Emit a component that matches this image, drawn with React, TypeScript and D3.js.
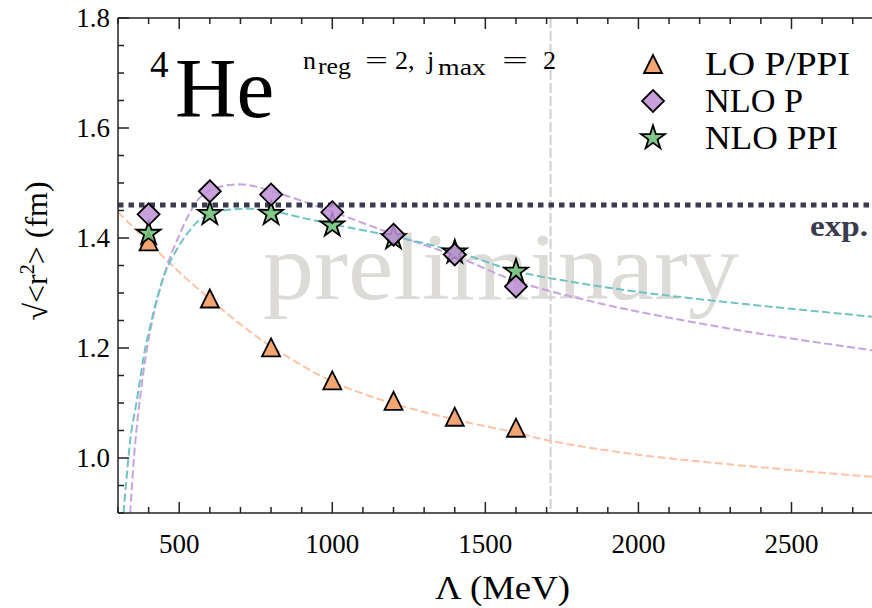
import React from "react";
import * as d3 from "d3";

// ---- data ----
const lambdaPoints = [400, 600, 800, 1000, 1200, 1400, 1600];
const loValues = [1.394, 1.29, 1.201, 1.141, 1.104, 1.075, 1.055];
const nloPValues = [1.443, 1.485, 1.479, 1.447, 1.406, 1.37, 1.312];
const nloPPIValues = [1.408, 1.444, 1.444, 1.423, 1.4, 1.374, 1.339];

const loCurveLambda = [300, 400, 500, 600, 700, 800, 1000, 1200, 1400, 1600, 1713, 2000, 2500, 2763];
const loCurveValues = [1.447, 1.392, 1.338, 1.289, 1.243, 1.203, 1.139, 1.099, 1.07, 1.046, 1.031, 1.006, 0.978, 0.966];

const nloPCurveLambda = [340, 352, 370, 395, 420, 445, 470, 500, 533, 565, 609, 674, 729, 797, 892, 1000, 1208, 1399, 1598, 1807, 2000, 2363, 2763];
const nloPCurveValues = [0.9, 1.0, 1.1, 1.2, 1.27, 1.322, 1.365, 1.405, 1.444, 1.472, 1.489, 1.497, 1.496, 1.486, 1.469, 1.448, 1.405, 1.368, 1.322, 1.29, 1.266, 1.229, 1.196];

const nloPPICurveLambda = [318, 334, 344, 360, 389, 402, 429, 457, 511, 565, 620, 674, 729, 797, 892, 1000, 1208, 1399, 1598, 1807, 2000, 2363, 2763];
const nloPPICurveValues = [0.9, 1.0, 1.05, 1.1, 1.2, 1.232, 1.293, 1.341, 1.396, 1.432, 1.447, 1.452, 1.453, 1.45, 1.438, 1.425, 1.402, 1.376, 1.34, 1.318, 1.302, 1.279, 1.257];

const expValue = 1.46;
const cutoffLambda = 1713;

const xMajorTicks = [500, 1000, 1500, 2000, 2500];
const xMinorTicks = [300, 400, 600, 700, 800, 900, 1100, 1200, 1300, 1400, 1600, 1700, 1800, 1900, 2100, 2200, 2300, 2400, 2600, 2700];
const yMajorTicks = [1.0, 1.2, 1.4, 1.6, 1.8];
const yMinorTicks = [0.9, 0.95, 1.05, 1.1, 1.15, 1.25, 1.3, 1.35, 1.45, 1.5, 1.55, 1.65, 1.7, 1.75];

const legendLabels = ["LO P/PPI", "NLO P", "NLO PPI"];

// ---- style ----
const W = 872, H = 608;
const L = 118, R = 872, T = 18, B = 513;
const FONT = "'Liberation Serif', 'Times New Roman', serif";
const colLoFill = "#f2a06a", colLoLine = "#fcc3a6";
const colPFill = "#bd8fd6", colPLine = "#c9a3e0";
const colPPIFill = "#74c27c", colPPILine = "#70c4c2";
const colExp = "#3b3b4f";

const x = d3.scaleLinear().domain([300, 2763]).range([L, R]);
const y = d3.scaleLinear().domain([0.9, 1.8]).range([B, T]);

function triPath(s: number) {
  const h = s / 2;
  return `M0,${-h}L${-h},${h}L${h},${h}Z`;
}
function diamondPath(s: number) {
  return `M0,${-s}L${s},0L0,${s}L${-s},0Z`;
}
function starPath(Ro: number) {
  const ri = Ro * 0.382;
  const pts: string[] = [];
  for (let i = 0; i < 10; i++) {
    const a = -Math.PI / 2 + (i * Math.PI) / 5;
    const r = i % 2 === 0 ? Ro : ri;
    pts.push(`${(r * Math.cos(a)).toFixed(2)},${(r * Math.sin(a)).toFixed(2)}`);
  }
  return "M" + pts.join("L") + "Z";
}

const shapes = [
  { d: triPath(18), fill: colLoFill, op: 0.95 },
  { d: diamondPath(11), fill: colPFill, op: 0.85 },
  { d: starPath(12.5), fill: colPPIFill, op: 0.9 },
];

export default function App() {
  const line = d3
    .line<[number, number]>()
    .x((d) => x(d[0]))
    .y((d) => y(d[1]))
    .curve(d3.curveCatmullRom.alpha(0.5));

  const curves = [
    { xs: loCurveLambda, ys: loCurveValues, col: colLoLine },
    { xs: nloPCurveLambda, ys: nloPCurveValues, col: colPLine },
    { xs: nloPPICurveLambda, ys: nloPPICurveValues, col: colPPILine },
  ];

  const series = [
    { vals: loValues, shape: shapes[0] },
    { vals: nloPPIValues, shape: shapes[2] },
    { vals: nloPValues, shape: shapes[1] },
  ];

  const paramPieces = [
    { t: "n", x: 303, w: 0, dy: 0 },
    { t: "reg", x: 318, w: 33, dy: 5 },
    { t: "=", x: 365, w: 23, dy: 0 },
    { t: "2,", x: 395, w: 0, dy: 0 },
    { t: "j", x: 427, w: 0, dy: 0 },
    { t: "max", x: 438, w: 48, dy: 6 },
    { t: "=", x: 502, w: 26, dy: 0 },
    { t: "2", x: 543, w: 0, dy: 0 },
  ];

  return (
    <svg width={W} height={H} style={{ position: "absolute", left: 0, top: 0, background: "#fff" }}>
      <defs>
        <clipPath id="plotclip">
          <rect x={L} y={T} width={R - L} height={B - T} />
        </clipPath>
      </defs>
      <rect x={0} y={0} width={W} height={H} fill="#fff" />

      {/* watermark */}
      <text x={263} y={299} fontFamily={FONT} fontSize={95} fill="#dcdbd7" textLength={476} lengthAdjust="spacingAndGlyphs">
        preliminary
      </text>

      <g clipPath="url(#plotclip)">
        <line x1={x(cutoffLambda)} x2={x(cutoffLambda)} y1={T} y2={B} stroke="#cfcfcf" strokeWidth={2} strokeDasharray="10 3" />
        {curves.map((c, i) => (
          <path
            key={i}
            d={line(c.xs.map((v, j) => [v, c.ys[j]] as [number, number])) || ""}
            fill="none"
            stroke={c.col}
            strokeWidth={2}
            strokeDasharray="8 3.5"
          />
        ))}
        <line x1={L} x2={R} y1={y(expValue)} y2={y(expValue)} stroke={colExp} strokeWidth={5} strokeDasharray="5.5 5" />
      </g>

      <text x={810} y={236} fontFamily={FONT} fontWeight="bold" fontSize={30} fill={colExp} textLength={58} lengthAdjust="spacingAndGlyphs">
        exp.
      </text>

      {series.map((s, i) => (
        <g key={i}>
          {s.vals.map((v, j) => (
            <path
              key={j}
              d={s.shape.d}
              transform={`translate(${x(lambdaPoints[j])},${y(v)})`}
              fill={s.shape.fill}
              fillOpacity={s.shape.op}
              stroke="#000"
              strokeWidth={1.8}
            />
          ))}
        </g>
      ))}

      {/* axes */}
      <g stroke="#222" strokeWidth={1.5} fill="none">
        <line x1={L} x2={R} y1={T} y2={T} />
        <line x1={L} x2={R} y1={B} y2={B} />
        <line x1={L} x2={L} y1={T} y2={B} />
        {xMajorTicks.map((t) => (
          <g key={"xM" + t}>
            <line x1={x(t)} x2={x(t)} y1={B} y2={B - 11} />
            <line x1={x(t)} x2={x(t)} y1={T} y2={T + 11} />
          </g>
        ))}
        {xMinorTicks.map((t) => (
          <g key={"xm" + t}>
            <line x1={x(t)} x2={x(t)} y1={B} y2={B - 6} />
            <line x1={x(t)} x2={x(t)} y1={T} y2={T + 6} />
          </g>
        ))}
        {yMajorTicks.map((t) => (
          <line key={"yM" + t} x1={L} x2={L + 11} y1={y(t)} y2={y(t)} />
        ))}
        {yMinorTicks.map((t) => (
          <line key={"ym" + t} x1={L} x2={L + 6} y1={y(t)} y2={y(t)} />
        ))}
      </g>

      <g fontFamily={FONT} fontSize={27} fill="#000">
        {xMajorTicks.map((t) => (
          <text key={"xl" + t} x={x(t)} y={553} textAnchor="middle">
            {String(t)}
          </text>
        ))}
        {yMajorTicks.map((t) => (
          <text key={"yl" + t} x={110} y={y(t) + 9} textAnchor="end">
            {t.toFixed(1)}
          </text>
        ))}
      </g>

      <text x={435} y={599} fontFamily={FONT} fontSize={34} textLength={135} lengthAdjust="spacingAndGlyphs">
        Λ (MeV)
      </text>
      <text transform="translate(47,251) rotate(-90)" textAnchor="middle" fontFamily={FONT} fontSize={32}>
        <tspan>√&lt;r</tspan>
        <tspan fontSize={20} dy={-13}>2</tspan>
        <tspan dy={13}>&gt; (fm)</tspan>
      </text>

      <text x={150} y={77} fontFamily={FONT} fontSize={37}>4</text>
      <text x={175} y={117} fontFamily={FONT} fontSize={85}>He</text>

      {paramPieces.map((p, i) => (
        <text
          key={i}
          x={p.x}
          y={69 + p.dy}
          fontFamily={FONT}
          fontSize={p.dy ? 23 : 26}
          textLength={p.w || undefined}
          lengthAdjust={p.w ? "spacingAndGlyphs" : undefined}
        >
          {p.t}
        </text>
      ))}

      {legendLabels.map((lab, i) => {
        const shp = shapes[i];
        const cy = [64, 101, 138][i];
        const widths = [145, 98, 133];
        return (
          <g key={lab}>
            <path d={shp.d} transform={`translate(653,${cy})`} fill={shp.fill} fillOpacity={shp.op} stroke="#000" strokeWidth={1.8} />
            <text x={705} y={cy + 11} fontFamily={FONT} fontSize={33} textLength={widths[i]} lengthAdjust="spacingAndGlyphs">
              {lab}
            </text>
          </g>
        );
      })}
    </svg>
  );
}
